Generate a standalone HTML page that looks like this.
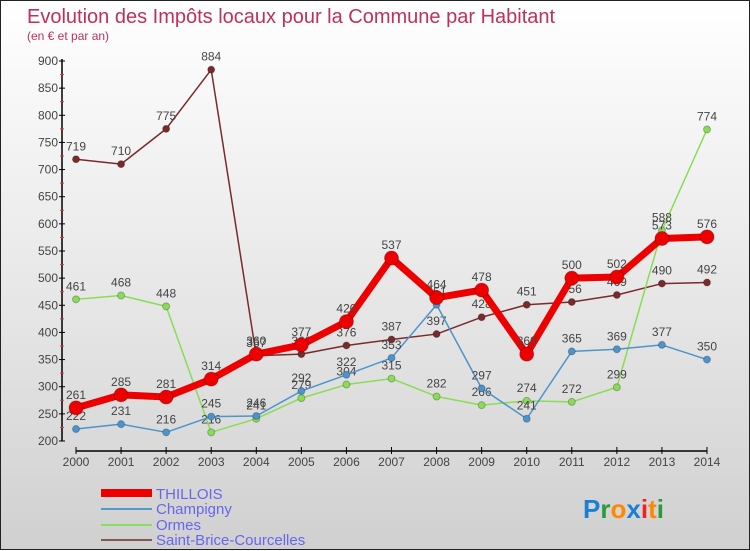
<!DOCTYPE html>
<html><head><meta charset="utf-8"><style>
body{margin:0;width:750px;height:550px;overflow:hidden}
#c{position:absolute;left:0;top:0;width:748px;height:548px;border:1px solid #222;background:linear-gradient(#ffffff,#e4e4e4 60%,#d0d0d0)}
svg{position:absolute;left:0;top:0}
text{font-family:"Liberation Sans",sans-serif}
</style></head><body>
<div id="c">
<svg id="s" width="750" height="550">
<text x="26" y="22" font-size="20" fill="#c0305a">Evolution des Impôts locaux pour la Commune par Habitant</text>
<text x="26" y="39" font-size="12" fill="#c0305a">(en € et par an)</text>
<g id="ax"></g><g id="ser"></g>
<g>
<rect x="100" y="488" width="51" height="8" fill="#e00"/>
<text x="155" y="498" font-size="15" fill="#6666ee">THILLOIS</text>
<rect x="100" y="507" width="51" height="2" fill="#5599cc"/>
<text x="155" y="513" font-size="15" fill="#6666ee">Champigny</text>
<rect x="100" y="523" width="51" height="2" fill="#88dd66"/>
<text x="155" y="529" font-size="15" fill="#6666ee">Ormes</text>
<rect x="100" y="538" width="51" height="2" fill="#885555"/>
<text x="155" y="544" font-size="15" fill="#6666ee">Saint-Brice-Courcelles</text>
</g>
<g font-size="26" font-weight="bold">
<text x="582" y="517"><tspan fill="#1a7fd6">P</tspan><tspan fill="#2a9a3a">r</tspan><tspan fill="#ff8800">o</tspan><tspan fill="#1a7fd6">x</tspan><tspan fill="#ee2222">i</tspan><tspan fill="#ff8800">t</tspan><tspan fill="#2a9a3a">i</tspan></text>
</g>
</svg></div>
<script>
const years=[2000,2001,2002,2003,2004,2005,2006,2007,2008,2009,2010,2011,2012,2013,2014];
const yTicks=[200,250,300,350,400,450,500,550,600,650,700,750,800,850,900];
const thillois=[261,285,281,314,360,377,420,537,464,478,360,500,502,573,576];
const champigny=[222,231,216,245,246,292,322,353,451,297,241,365,369,377,350];
const ormes=[461,468,448,216,241,279,304,315,282,266,274,272,299,588,774];
const stBrice=[719,710,775,884,357,360,376,387,397,428,451,456,469,490,492];
const NS="http://www.w3.org/2000/svg";
function X(i){return 75+i*(706-75)/14;}
function Y(v){return 440-(v-200)*(380/700);}
function mk(p,t,a){const e=document.createElementNS(NS,t);for(const k in a)e.setAttribute(k,a[k]);p.appendChild(e);return e;}
const ax=document.getElementById('ax');
let l=mk(ax,'line',{x1:61,y1:58,x2:61,y2:440,stroke:'#000','stroke-width':1.5});


l=mk(ax,'line',{x1:75,y1:450,x2:706,y2:450,stroke:'#000','stroke-width':1.5});


yTicks.forEach(v=>{
 mk(ax,'line',{x1:58,y1:Y(v),x2:64,y2:Y(v),stroke:'#000'});
 if(v<900)mk(ax,'line',{x1:59,y1:Y(v+25),x2:63,y2:Y(v+25),stroke:'#e33'});
 const t=mk(ax,'text',{x:57,y:Y(v)+4,'font-size':12,fill:'#444','text-anchor':'end'});
 t.textContent=v;
 
 
});
years.forEach((y,i)=>{
 mk(ax,'line',{x1:X(i),y1:446,x2:X(i),y2:453,stroke:'#000'});
 const t=mk(ax,'text',{x:X(i),y:465,'font-size':12,fill:'#444','text-anchor':'middle'});
 t.textContent=y;
 
 
});
const ser=document.getElementById('ser');
function draw(d,col,w,r,name){
 const g=mk(ser,'g',{});
 
 
 const p=mk(g,'polyline',{points:d.map((v,i)=>X(i)+','+Y(v)).join(' '),fill:'none',stroke:col,'stroke-width':w,'stroke-linejoin':'round'});
 
 
 d.forEach((v,i)=>{
  const c=mk(g,'circle',{cx:X(i),cy:Y(v),r:r,fill:col,stroke:'rgba(0,0,0,0.25)'});
  
  
  const t=mk(g,'text',{x:X(i),y:Y(v)-9,'font-size':12,fill:'#444','text-anchor':'middle'});
  t.textContent=v;
  
  
 });
}
draw(stBrice,'#7a2a2a',1.5,3.5,'saint-brice');
draw(ormes,'#88dd55',1.5,3.5,'ormes');
draw(champigny,'#4d94cc',1.5,3.5,'champigny');
draw(thillois,'#ee0000',7,7,'thillois');
</script>
</body></html>
